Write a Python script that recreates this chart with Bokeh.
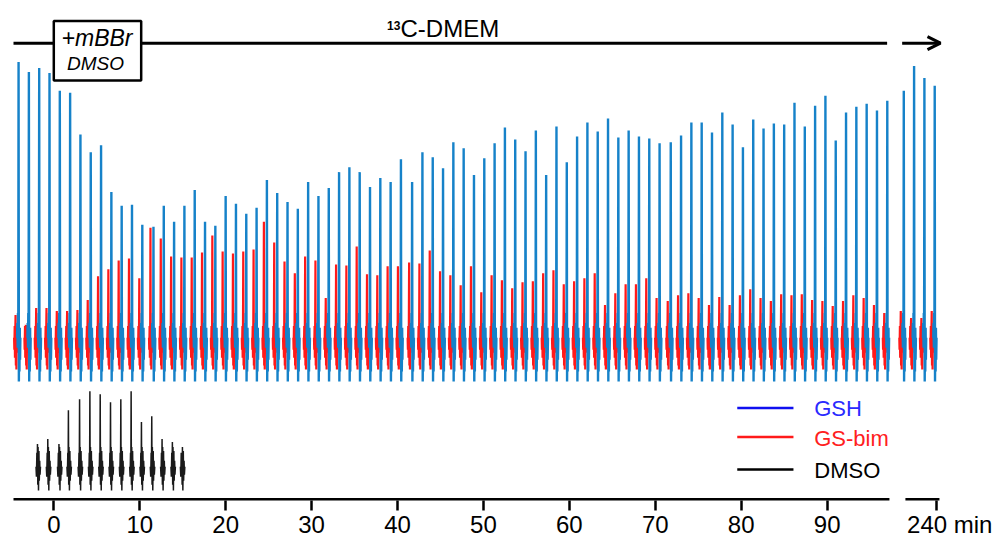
from bokeh.plotting import figure
from bokeh.models import FixedTicker, Arrow, OpenHead
from bokeh.core.properties import value
from bokeh.embed import file_html
from bokeh.resources import INLINE

# ---------------- data ----------------
# acquisition times (min) of the GSH / GS-bim spectra
times = [-4.1, -2.9, -1.7, -0.5, 0.7, 1.9, 3.1, 4.3, 5.5, 6.7,
         7.9, 9.1, 10.3, 11.6, 12.8, 14.0, 15.2, 16.4, 17.6, 18.8,
         20.0, 21.2, 22.4, 23.6, 24.8, 26.0, 27.2, 28.4, 29.6, 30.8,
         32.0, 33.2, 34.4, 35.6, 36.8, 38.0, 39.2, 40.4, 41.7, 42.9,
         44.1, 45.3, 46.5, 47.7, 48.9, 50.1, 51.3, 52.5, 53.7, 54.9,
         56.1, 57.3, 58.5, 59.7, 60.9, 62.1, 63.3, 64.5, 65.7, 66.9,
         68.1, 69.3, 70.5, 71.8, 73.0, 74.2, 75.4, 76.6, 77.8, 79.0,
         80.2, 81.4, 82.6, 83.8, 85.0, 86.2, 87.4, 88.6, 89.8, 91.0,
         92.2, 93.4, 94.6, 95.8, 97.0]
late_times = [236.2, 237.4, 238.6, 239.8]

gsh = [278, 268, 272, 267, 249, 247, 205, 187, 194, 147,
       133, 134, 114, 112, 133, 117, 133, 149, 117, 113,
       143, 135, 125, 131, 159, 146, 137, 130, 157, 143,
       151, 167, 172, 167, 152, 161, 157, 180, 157, 187,
       182, 171, 197, 191, 164, 181, 196, 212, 200, 188,
       209, 164, 213, 177, 203, 217, 208, 221, 202, 209,
       203, 201, 196, 197, 204, 217, 217, 207, 227, 215,
       192, 220, 211, 216, 215, 237, 213, 234, 244, 199,
       227, 233, 236, 229, 239]
late_gsh = [249, 274, 262, 254]

gsbim = [23, 13, 30, 30, 27, 27, 28, 38, 62, 69,
         78, 80, 60, 111, 100, 82, 81, 81, 86, 103,
         87, 85, 87, 89, 117, 96, 77, 65, 82, 78,
         40, 74, 73, 92, 64, 63, 72, 72, 76, 75,
         88, 67, 63, 53, 72, 46, 63, 58, 50, 56,
         57, 65, 68, 54, 57, 60, 65, 33, 45, 54,
         54, 60, 40, 37, 43, 45, 40, 33, 41, 33,
         43, 49, 40, 37, 44, 43, 44, 38, 37, 32,
         37, 43, 40, 33, 25]
late_gsbim = [27, 20, 20, 27]

dmso_times = [-1.9, -0.7, 0.6, 1.7, 3.0, 4.2, 5.4, 6.6, 7.8, 9.0, 10.2, 11.4, 12.6, 13.8, 14.9]
dmso = [23, 28, 23, 57, 68, 76, 73, 65, 68, 76, 45, 51, 28, 25, 12]
dmso_base = -130

# line shape of one spectrum (offset in min, intensity); the None entry is the main peak
blue_dx = [-0.17, -0.14, -0.10, -0.07, -0.035, 0.0, 0.035, 0.07, 0.10, 0.14, 0.17, 0.21]
blue_dy = [0, 15, -10, 25, -5, None, -44, 5, -34, 10, -22, 0]
red_shift = -0.35
red_dx = [-0.17, -0.14, -0.10, -0.07, -0.035, 0.0, 0.035, 0.07, 0.10, 0.14, 0.17, 0.21]
red_dy = [0, -12, 12, -20, 5, None, -28, 8, -32, 10, -15, 0]
dmso_dx = [-0.17, -0.12, -0.07, -0.035, 0.0, 0.035, 0.07, 0.12, 0.17, 0.21, 0.26, 0.30, 0.35]
dmso_dy = [0, -10, 14, -6, None, -18, 20, -24, 16, -14, 6, -8, 0]

tick_values = [0, 10, 20, 30, 40, 50, 60, 70, 80, 90]
late_tick = 240
late_label = "\u2007\u2007240 min"
BREAK_POS = 102.72  # display position of 240 min after the axis break


def disp(t):
    return t - late_tick + BREAK_POS if t > 150 else t


def traces(ts, hs, dx, dy, shift=0.0, base=0.0):
    xs, ys = [], []
    for t, h in zip(ts, hs):
        c = disp(t) + shift
        xs.append([c + d for d in dx])
        ys.append([base + (h if v is None else v) for v in dy])
    return xs, ys


all_t = times + late_times
all_gsh = gsh + late_gsh
all_red = gsbim + late_gsbim

FONT = "Liberation Sans"

p = figure(width=996, height=540, x_range=(-6.203, 109.71), y_range=(-164, 340),
           output_backend="svg", toolbar_location=None, y_axis_location=None,
           min_border_left=0, min_border_top=0, min_border_right=0, min_border_bottom=36)
p.outline_line_color = None
p.xgrid.visible = False
p.ygrid.visible = False
p.background_fill_color = "white"

# spectra
rx, ry = traces(all_t, all_red, red_dx, red_dy, shift=red_shift)
p.multi_line(rx, ry, line_color="#ff1a1a", line_width=2.2)
bx, by = traces(all_t, all_gsh, blue_dx, blue_dy)
p.multi_line(bx, by, line_color="#1682c9", line_width=2.4)
kx, ky = traces(dmso_times, dmso, dmso_dx, dmso_dy, base=dmso_base)
p.multi_line(kx, ky, line_color="#1a1a1a", line_width=1.5)

# broken x-axis line
p.segment(x0=[-4.69, 99.11], x1=[97.25, 103.07], y0=[-164, -164], y1=[-164, -164],
          line_color="black", line_width=5)

ax = p.xaxis[0]
ax.ticker = FixedTicker(ticks=tick_values + [BREAK_POS])
ax.major_label_overrides = {BREAK_POS: late_label}
ax.axis_line_color = None
ax.minor_tick_line_color = None
ax.major_tick_in = 0
ax.major_tick_out = 10
ax.major_tick_line_width = 2.5
ax.major_tick_line_color = "black"
ax.major_label_standoff = 0
ax.major_label_text_font = FONT
ax.major_label_text_font_size = "24px"
ax.major_label_text_color = "black"

# treatment bar on top
p.segment(x0=[-4.69, 10.17], x1=[0.0, 96.98], y0=[297, 297], y1=[297, 297],
          line_color="black", line_width=3)
p.add_layout(Arrow(end=OpenHead(size=13, line_width=3, line_color="black"),
                   x_start=98.73, y_start=297, x_end=103.19, y_end=297,
                   line_width=3, line_color="black"))
p.quad(left=[0.0], right=[10.17], bottom=[259.3], top=[319.3],
       fill_color="white", line_color="black", line_width=2.5)
p.text(x=[5.03], y=[302.6], text=["+mBBr"], text_font=value(FONT), text_font_style="italic",
       text_font_size="23px", text_align="center", text_baseline="alphabetic", text_color="black")
p.text(x=[4.85], y=[276.3], text=["DMSO"], text_font=value(FONT), text_font_style="italic",
       text_font_size="19px", text_align="center", text_baseline="alphabetic", text_color="black")
p.text(x=[38.78], y=[314.5], text=["13"], text_font=value(FONT), text_font_style="bold",
       text_font_size="12px", text_align="left", text_baseline="alphabetic", text_color="black")
p.text(x=[40.35], y=[312], text=["C-DMEM"], text_font=value(FONT),
       text_font_size="24px", text_align="left", text_baseline="alphabetic", text_color="black")

# legend
leg_names = ["GSH", "GS-bim", "DMSO"]
leg_line_colors = ["#1010f0", "#ff1a1a", "black"]
leg_text_colors = ["#2a2aff", "#ff2020", "black"]
leg_y = [-70.7, -100, -132.7]
p.segment(x0=[79.54] * 3, x1=[86.08] * 3, y0=leg_y, y1=leg_y,
          line_color=leg_line_colors, line_width=2.5)
p.text(x=[88.5] * 3, y=[y - 1.0 for y in leg_y], text=leg_names, text_font=value(FONT),
       text_font_size="22px", text_color=leg_text_colors, text_align="left",
       text_baseline="alphabetic")

open("out.html", "w").write(file_html(p, INLINE))
